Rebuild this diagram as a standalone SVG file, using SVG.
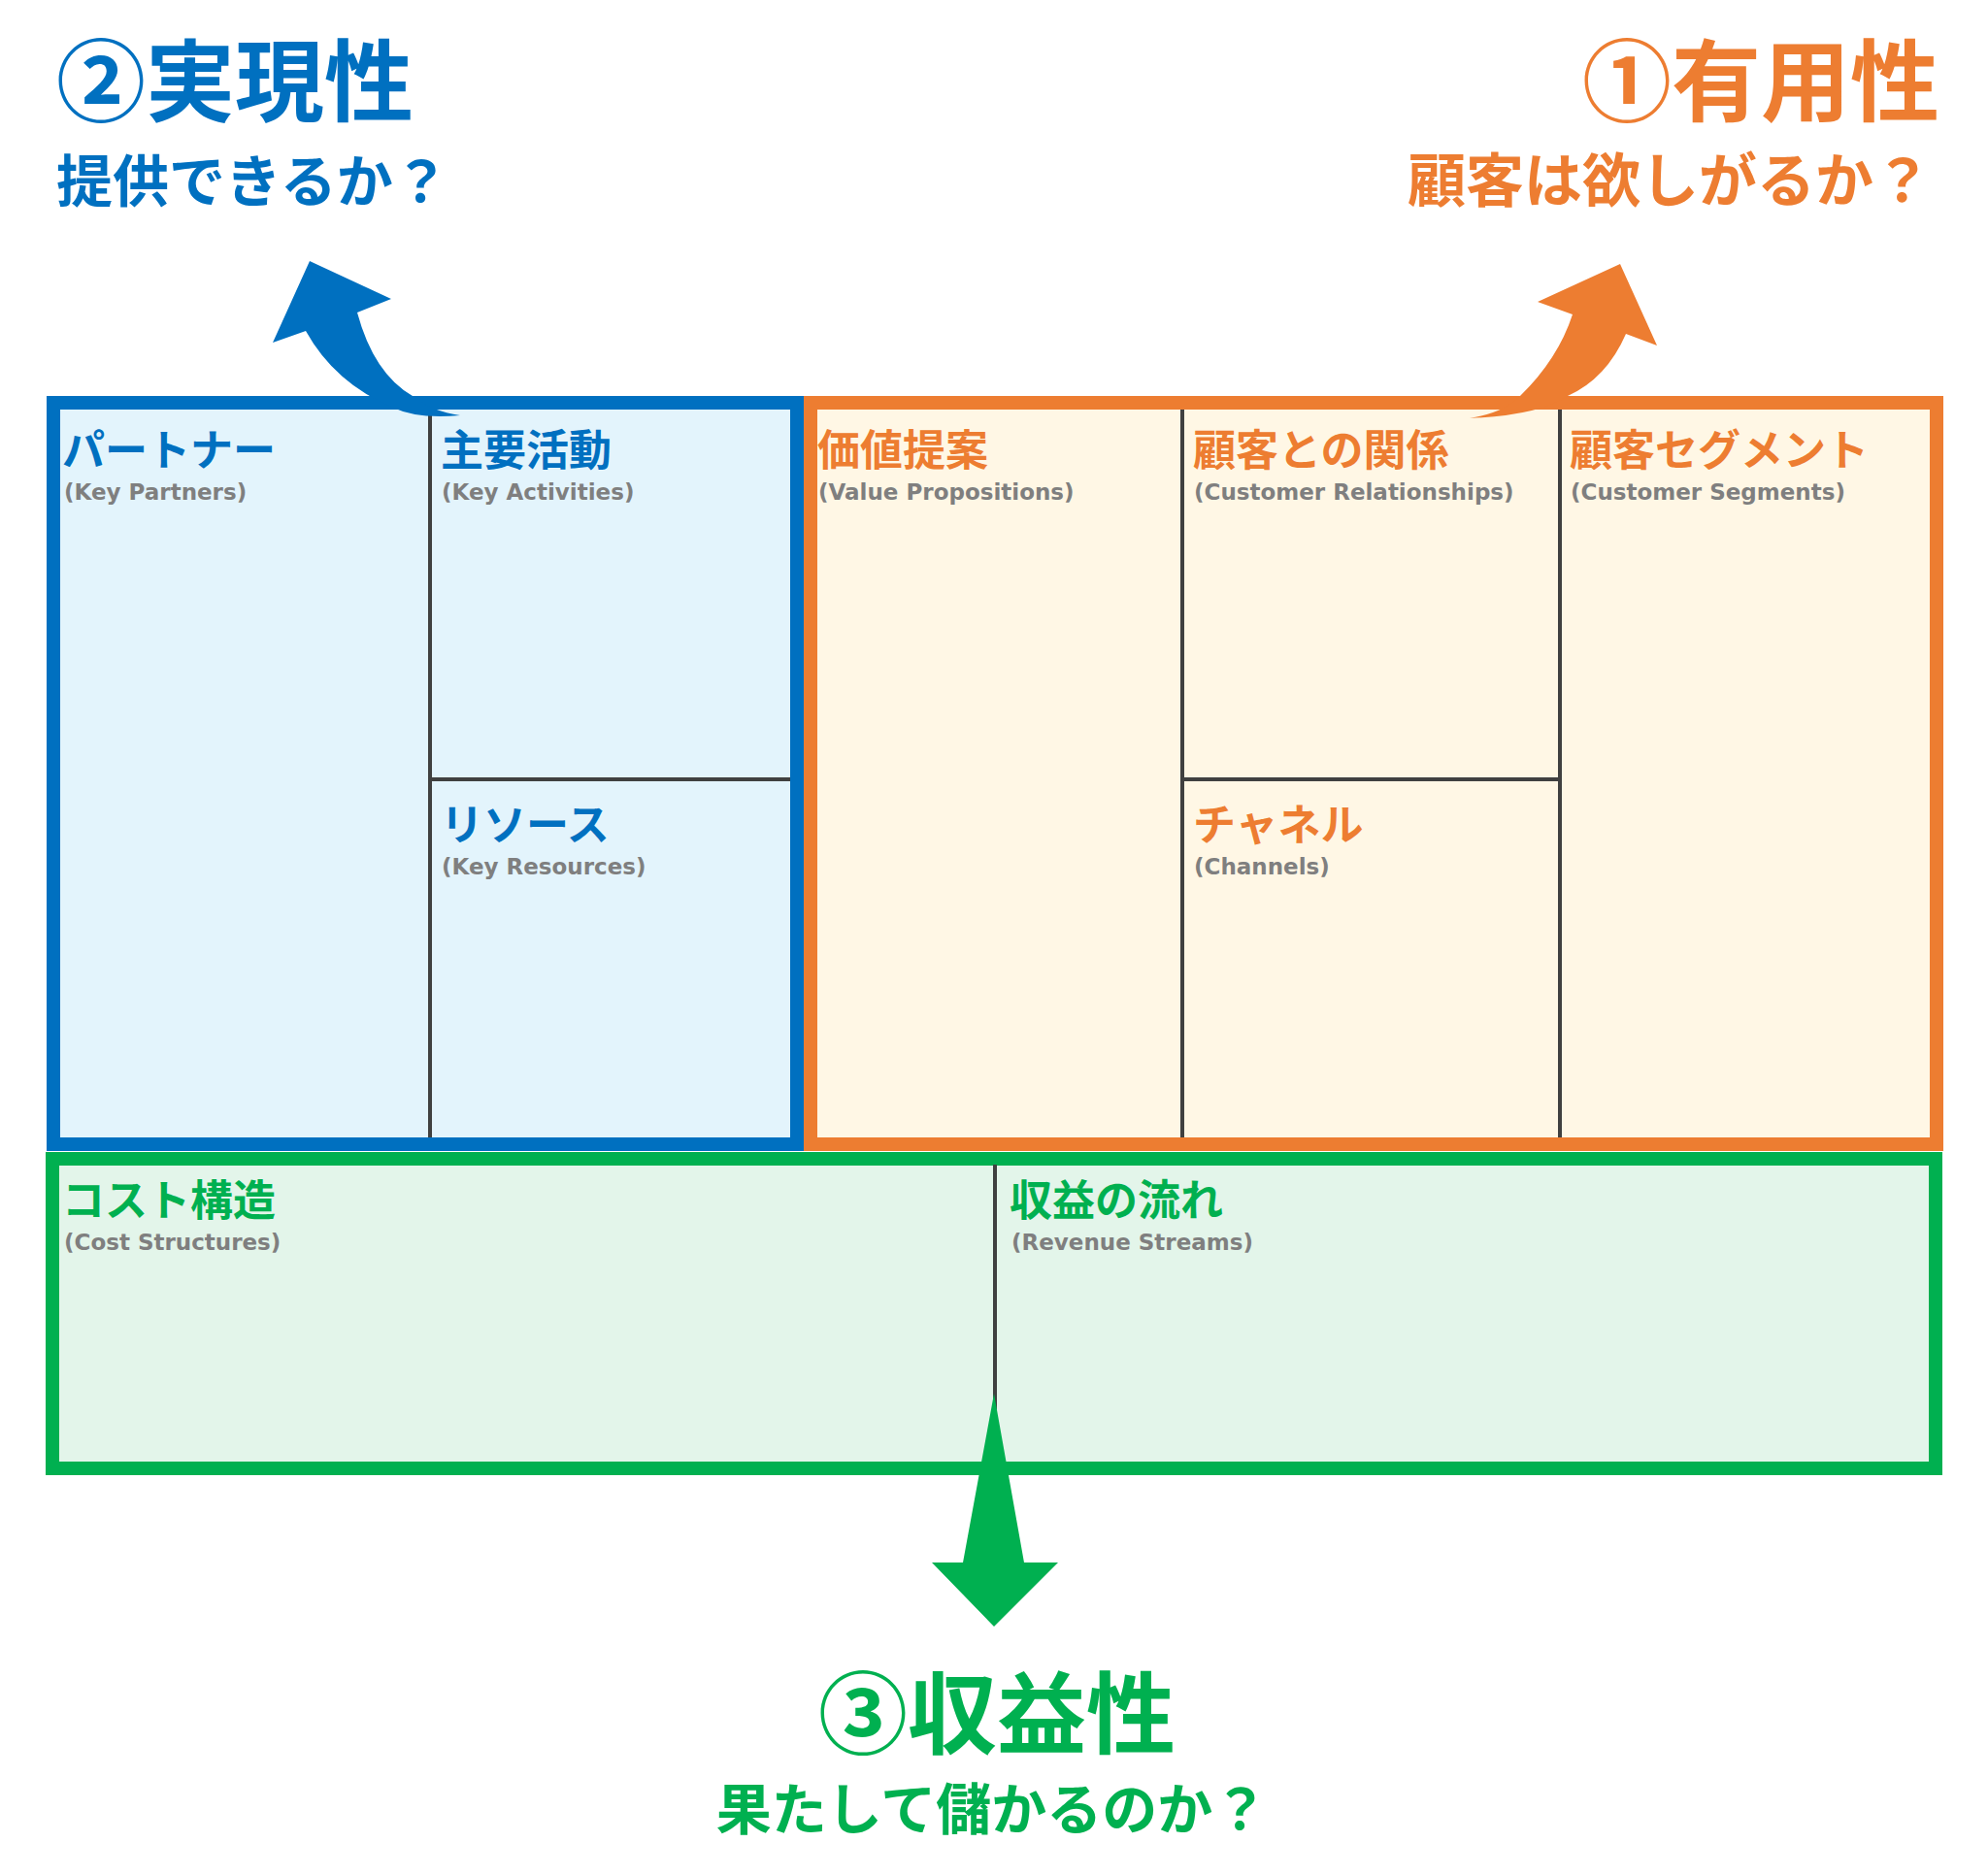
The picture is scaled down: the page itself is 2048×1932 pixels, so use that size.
<svg xmlns="http://www.w3.org/2000/svg" width="2048" height="1932" viewBox="0 0 2048 1932">
<style>
.jp{font-family:"Noto Sans CJK JP","Noto Sans",sans-serif;font-weight:bold}
.t{font-size:44px}
.sub{font-family:"DejaVu Sans","Liberation Sans",sans-serif;font-weight:bold;font-size:23px;fill:#7F7F7F}
.b{fill:#0070C0}.o{fill:#ED7D31}.g{fill:#00B050}
.div{stroke:#404040;stroke-width:4;fill:none}
</style>
<rect width="2048" height="1932" fill="#fff"/>
<g id="titles">
<text class="jp b" x="58" y="118" font-size="92">②実現性</text>
<text class="jp b" x="58" y="208" font-size="58">提供できるか？</text>
<text class="jp o" x="1998" y="118" font-size="92" text-anchor="end">①有用性</text>
<text class="jp o" x="1990" y="208" font-size="60" text-anchor="end">顧客は欲しがるか？</text>
<text class="jp g" x="1027" y="1800" font-size="92" text-anchor="middle">③収益性</text>
<text class="jp g" x="1022" y="1885" font-size="57" text-anchor="middle">果たして儲かるのか？</text>
</g>
<g id="feasibility">
<rect x="55" y="415" width="766" height="764" fill="#E3F4FC" stroke="#0070C0" stroke-width="14"/>
<line class="div" x1="443" y1="422" x2="443" y2="1172"/>
<line class="div" x1="443" y1="803" x2="814" y2="803"/>
</g>
<g id="desirability">
<rect x="835" y="415" width="1160" height="764" fill="#FFF7E5" stroke="#ED7D31" stroke-width="14"/>
<line class="div" x1="1218" y1="422" x2="1218" y2="1172"/>
<line class="div" x1="1607" y1="422" x2="1607" y2="1172"/>
<line class="div" x1="1218" y1="803" x2="1607" y2="803"/>
</g>
<g id="viability">
<rect x="54" y="1194" width="1940" height="319" fill="#E3F5EA" stroke="#00B050" stroke-width="14"/>
<line class="div" x1="1025" y1="1200" x2="1025" y2="1507"/>
</g>
<g id="labels">
<g id="partners"><text class="jp t b" x="64" y="480">パートナー</text><text class="sub" x="66" y="515">(Key Partners)</text></g>
<g id="activities"><text class="jp t b" x="454" y="480">主要活動</text><text class="sub" x="455" y="515">(Key Activities)</text></g>
<g id="resources"><text class="jp t b" x="454" y="866">リソース</text><text class="sub" x="455" y="901">(Key Resources)</text></g>
<g id="value"><text class="jp t o" x="842" y="480">価値提案</text><text class="sub" x="843" y="515">(Value Propositions)</text></g>
<g id="relationships"><text class="jp t o" x="1229" y="480">顧客との関係</text><text class="sub" x="1230" y="515">(Customer Relationships)</text></g>
<g id="channels"><text class="jp t o" x="1229" y="866">チャネル</text><text class="sub" x="1230" y="901">(Channels)</text></g>
<g id="segments"><text class="jp t o" x="1617" y="480">顧客セグメント</text><text class="sub" x="1618" y="515">(Customer Segments)</text></g>
<g id="cost"><text class="jp t g" x="64" y="1253">コスト構造</text><text class="sub" x="66" y="1288">(Cost Structures)</text></g>
<g id="revenue"><text class="jp t g" x="1040" y="1253">収益の流れ</text><text class="sub" x="1042" y="1288">(Revenue Streams)</text></g>
</g>
<g id="connectors">
<path fill="#0070C0" d="M319,269 L403,308 L368,322 Q385,385 425,408 Q445,424 474,428 Q430,432 405,420 Q345,395 315,341 L281,353 Z"/>
<path fill="#ED7D31" d="M1669,272 L1707,356 L1675,344 Q1655,390 1615,408 Q1585,428 1514,431 Q1550,425 1566,408 Q1605,370 1620,324 L1584,311 Z"/>
<path fill="#00B050" d="M1024,1436 L1055,1610 L1090,1610 L1024,1676 L960,1610 L992,1610 Z"/>
</g>
</svg>
